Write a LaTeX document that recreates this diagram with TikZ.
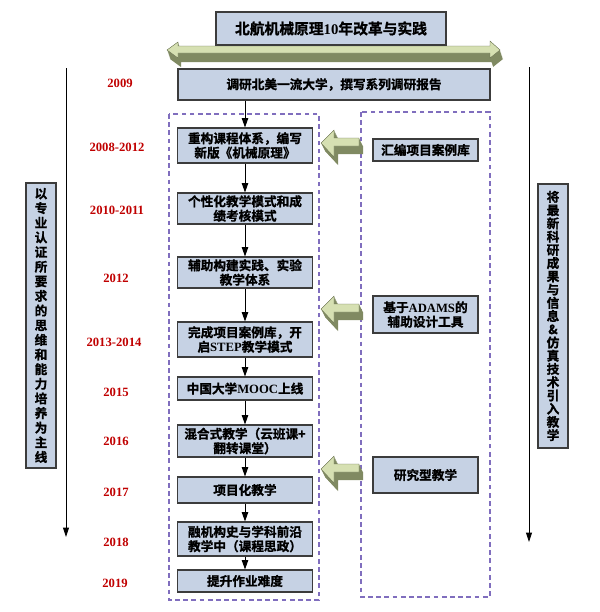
\documentclass[tikz,border=0pt]{standalone}
\usepackage{fontspec}
\setmainfont{Liberation Serif}
\newfontfamily\cjk{Noto Sans CJK SC}[BoldFont={Noto Sans CJK SC Bold}, BoldFeatures={FakeBold=1.2}]
\usepackage{tikz}
\usetikzlibrary{arrows, positioning, arrows.meta}
\definecolor{cajon}{RGB}{198,210,228}
\definecolor{borde}{RGB}{60,60,60}
\definecolor{rojo}{RGB}{192,0,0}
\definecolor{lila}{RGB}{128,110,190}
\definecolor{verdeA}{RGB}{214,224,178}
\definecolor{verdeB}{RGB}{128,138,98}
\newcommand{\EN}[1]{{\rmfamily #1}}
% flecha verde 3D hacia la izquierda, punta en (#1,#2)
\newcommand{\FlechaIzq}[2]{%
  \begin{scope}[shift={(#1,#2)}]
    \foreach \k in {0,1,...,8}
      \fill[verdeB] (\k/2,\k) -- ++(13,-13) -- ++(0,8) -- ++(25,0) -- ++(0,8) -- ++(-25,0) -- ++(0,11) -- cycle;
    \filldraw[fill=verdeA, draw=verdeB!80!black, line width=0.3pt] (0,0) -- ++(13,-13) -- ++(0,8) -- ++(25,0) -- ++(0,8) -- ++(-25,0) -- ++(0,11) -- cycle;
  \end{scope}}

\begin{document}
\begin{tikzpicture}[x=0.03cm, y=-0.03cm,
    caja/.style={draw=borde, line width=0.9pt, fill=cajon, align=center, inner sep=1pt,
      font=\cjk\bfseries\fontsize{10.8}{12.3}\selectfont},
    paso/.style={caja, minimum width=4.05cm},
    lado/.style={caja, minimum width=3.15cm},
    vert/.style={caja, minimum width=0.9cm},
    anio/.style={text=rojo, font=\bfseries\fontsize{10.8}{13}\selectfont},
    marco/.style={draw=lila, line width=1pt, dash pattern=on 4pt off 3pt},
    une/.style={-{Triangle[length=8pt,width=5.5pt]}, line width=0.8pt},
    eje/.style={-{Triangle[length=8pt,width=5pt]}, line width=0.7pt}]
    \useasboundingbox (0,0) rectangle (600,612);

    % Flecha doble del titulo
    \foreach \k in {0,1,...,9}
      \fill[verdeB] (167+\k/3,50+\k) -- ++(11,-8) -- ++(0,4) -- ++(312,0) -- ++(0,-5) -- ++(10,9) -- ++(-10,8) -- ++(0,-5) -- ++(-312,0) -- ++(0,5) -- cycle;
    \filldraw[fill=verdeA, draw=verdeB!80!black, line width=0.3pt] (167,50) -- ++(11,-8) -- ++(0,4) -- ++(312,0) -- ++(0,-5) -- ++(10,9) -- ++(-10,8) -- ++(0,-5) -- ++(-312,0) -- ++(0,5) -- cycle;
    \node[caja, minimum width=6.9cm, minimum height=0.99cm, font=\cjk\bfseries\fontsize{12.6}{14}\selectfont] (titulo) at (331,28.5) {北航机械原理\EN{10}年改革与实践};
    \node[caja, minimum width=9.36cm, minimum height=0.93cm] (b09) at (334,84.5) {调研北美一流大学，撰写系列调研报告};

    % Marcos punteados
    \draw[marco] (169,114) rectangle (319,600);
    \draw[marco] (361,112) rectangle (490,597);

    % Pasos
    \node[paso, minimum height=1.05cm] (s1) at (245,145.5) {重构课程体系，编写\\新版《机械原理》};
    \node[paso, minimum height=0.93cm] (s2) at (245,208.5) {个性化教学模式和成\\绩考核模式};
    \node[paso, minimum height=0.93cm] (s3) at (245,272.5) {辅助构建实践、实验\\教学体系};
    \node[paso, minimum height=1.05cm] (s4) at (245,339.5) {完成项目案例库，开\\启\EN{STEP}教学模式};
    \node[paso, minimum height=0.69cm] (s5) at (245,388.5) {中国大学\EN{MOOC}上线};
    \node[paso, minimum height=0.96cm] (s6) at (245,441) {混合式教学（云班课+\\翻转课堂）};
    \node[paso, minimum height=0.78cm] (s7) at (245,490) {项目化教学};
    \node[paso, minimum height=1.02cm] (s8) at (245,539) {融机构史与学科前沿\\教学中（课程思政）};
    \node[paso, minimum height=0.66cm] (s9) at (245,581) {提升作业难度};

    \draw[une] (s1 |- b09.south) -- (s1);
    \foreach \a/\b in {s1/s2, s2/s3, s3/s4, s4/s5, s5/s6, s6/s7, s7/s8, s8/s9}
      \draw[une] (\a) -- (\b);

    % Años
    \node[anio] (a09) at (120,83) {2009};
    \node[anio] (a0812) at (117,147) {2008-2012};
    \node[anio] (a1011) at (117,210) {2010-2011};
    \node[anio] (a12) at (116,278) {2012};
    \node[anio] (a1314) at (114,342) {2013-2014};
    \node[anio] (a15) at (116,392) {2015};
    \node[anio] (a16) at (116,441) {2016};
    \node[anio] (a17) at (116,492) {2017};
    \node[anio] (a18) at (116,542) {2018};
    \node[anio] (a19) at (115,583) {2019};

    % Cajas de la derecha
    \node[lado, minimum height=0.66cm] (ra) at (425.5,150) {汇编项目案例库};
    \node[lado, minimum height=1.11cm] (rb) at (425.5,314.5) {基于\EN{ADAMS}的\\辅助设计工具};
    \node[lado, minimum height=1.08cm] (rc) at (425.5,475) {研究型教学};
    \FlechaIzq{321}{143}
    \FlechaIzq{321}{309}
    \FlechaIzq{321}{469}

    % Ejes laterales
    \coordinate (izq1) at (66,68);
    \coordinate (izq2) at (66,537);
    \coordinate (der1) at (529,67);
    \coordinate (der2) at (529,542);
    \draw[eje] (izq1) -- (izq2);
    \draw[eje] (der1) -- (der2);
    \node[vert, minimum height=8.55cm, font=\cjk\bfseries\fontsize{10.8}{12.5}\selectfont] (vizq) at (41,325.5)
      {以\\专\\业\\认\\证\\所\\要\\求\\的\\思\\维\\和\\能\\力\\培\\养\\为\\主\\线};
    \node[vert, minimum height=7.92cm, font=\cjk\bfseries\fontsize{10.8}{11.3}\selectfont] (vder) at (553,316)
      {将\\最\\新\\科\\研\\成\\果\\与\\信\\息\\\&\\仿\\真\\技\\术\\引\\入\\教\\学};
\end{tikzpicture}
\end{document}
